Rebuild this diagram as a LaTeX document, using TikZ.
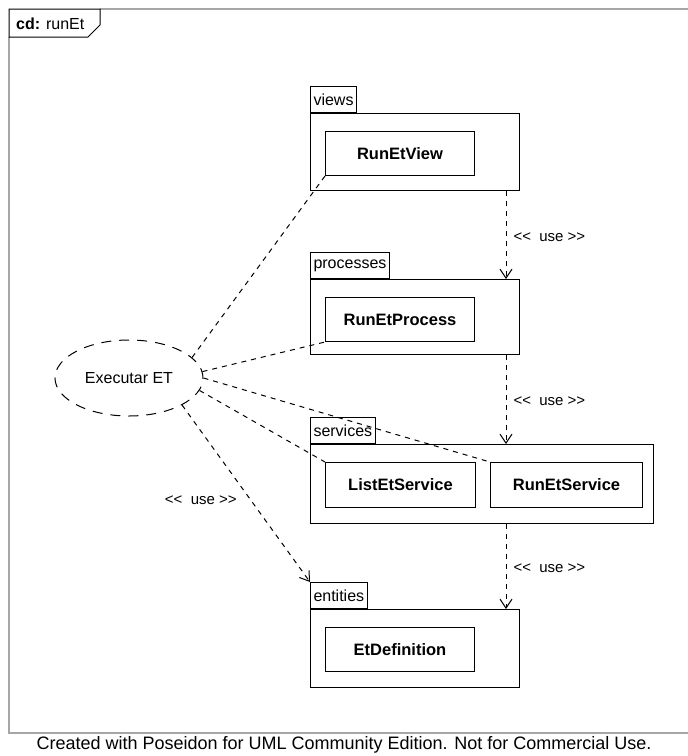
\documentclass[tikz,border=0pt]{standalone}
\usepackage{fontspec}
\setmainfont{Liberation Sans}
\usetikzlibrary{shapes.geometric,arrows.meta,calc}

% stereotype text, kept free of the << >> ligature mapping
\newcommand{\useStereo}{<\kern0pt<\ \ use >\kern0pt>}

\begin{document}
\begin{tikzpicture}[x=1pt,y=-1pt,
  every node/.style={font=\fontsize{16}{19}\selectfont},
  pkgtab/.style={draw, line width=1pt, minimum height=26pt, inner xsep=3pt, inner ysep=0pt, anchor=south west},
  pkgbody/.style={draw, line width=1pt, anchor=north west, inner sep=0pt},
  cls/.style={draw, line width=1pt, anchor=north west, inner sep=0pt,
              font=\fontsize{16.5}{19}\selectfont\bfseries},
  usecase/.style={ellipse, draw, line width=1pt, dash pattern=on 10pt off 8pt,
                  minimum width=148pt, minimum height=76pt, inner sep=0pt},
  assoc/.style={line width=1pt, dash pattern=on 5pt off 5pt},
  dep/.style={line width=1pt, dash pattern=on 5pt off 5pt,
              -{Straight Barb[length=9pt, width=12pt, line width=1pt]}},
  stereo/.style={font=\fontsize{15}{18}\selectfont, inner sep=0pt}
]
\useasboundingbox (0,0) rectangle (688,756);
\fill[white] (0,0) rectangle (688,756);

% diagram frame
\draw[gray!70, line width=1.3pt] (100,9) -- (688,9);
\draw[gray!70, line width=1.3pt] (9,37) -- (9,733) -- (688,733);
\draw[line width=1pt] (9,9) -- (100,9) -- (100,25) -- (88,37) -- (9,37) -- cycle;
\node[anchor=west, inner sep=0pt] (frameTitle) at (16,24) {\textbf{cd:} runEt};

% package views
\node[pkgtab] (viewsTab) at (310,113) {views};
\node[pkgbody, minimum width=209pt, minimum height=77pt] (viewsBody) at (310,113) {};
\node[cls, minimum width=149pt, minimum height=44pt] (runEtView) at (325,131) {RunEtView};

% package processes
\node[pkgtab] (processesTab) at (310,279) {processes};
\node[pkgbody, minimum width=209pt, minimum height=75pt] (processesBody) at (310,279) {};
\node[cls, minimum width=149pt, minimum height=44pt] (runEtProcess) at (325,297) {RunEtProcess};

% package services
\node[pkgtab] (servicesTab) at (310,444) {services};
\node[pkgbody, minimum width=343pt, minimum height=79pt] (servicesBody) at (310,444) {};
\node[cls, minimum width=150pt, minimum height=45pt] (listEtService) at (325,462) {ListEtService};
\node[cls, minimum width=152pt, minimum height=45pt] (runEtService) at (490,462) {RunEtService};

% package entities
\node[pkgtab] (entitiesTab) at (310,609) {entities};
\node[pkgbody, minimum width=209pt, minimum height=78pt] (entitiesBody) at (310,609) {};
\node[cls, minimum width=149pt, minimum height=44pt] (etDefinition) at (325,627) {EtDefinition};

% use case
\node[usecase] (executarEt) at (129,378) {Executar ET};

% associations of the use case
\draw[assoc] (executarEt.18) -- (runEtView.south west);
\draw[assoc] (executarEt.5) -- (runEtProcess.south west);
\draw[assoc] (executarEt.0) -- (runEtService.north west);
\draw[assoc] (executarEt.-10) -- (listEtService.north west);
\draw[dep] (executarEt.-27) -- node[stereo, pos=0.54, anchor=east, xshift=-14pt] (useLabelA) {\useStereo} (entitiesTab.north west);

% dependencies between packages
\coordinate (viewsOut) at ([xshift=-14pt]viewsBody.south east);
\coordinate (processesIn) at ([xshift=-14pt]processesBody.north east);
\coordinate (processesOut) at ([xshift=-14pt]processesBody.south east);
\coordinate (servicesIn) at ([xshift=-148pt]servicesBody.north east);
\coordinate (servicesOut) at ([xshift=-148pt]servicesBody.south east);
\coordinate (entitiesIn) at ([xshift=-14pt]entitiesBody.north east);

\draw[dep] (viewsOut) -- node[stereo, anchor=west, xshift=7pt, yshift=-2pt] (useLabelB) {\useStereo} (processesIn);
\draw[dep] (processesOut) -- node[stereo, anchor=west, xshift=7pt, yshift=-2pt] (useLabelC) {\useStereo} (servicesIn);
\draw[dep] (servicesOut) -- node[stereo, anchor=west, xshift=7pt, yshift=-2pt] (useLabelD) {\useStereo} (entitiesIn);

% footer
\node[font=\fontsize{18}{21}\selectfont] (footer) at (344,745) {Created with Poseidon for UML Community Edition. Not for Commercial Use.};
\end{tikzpicture}
\end{document}
